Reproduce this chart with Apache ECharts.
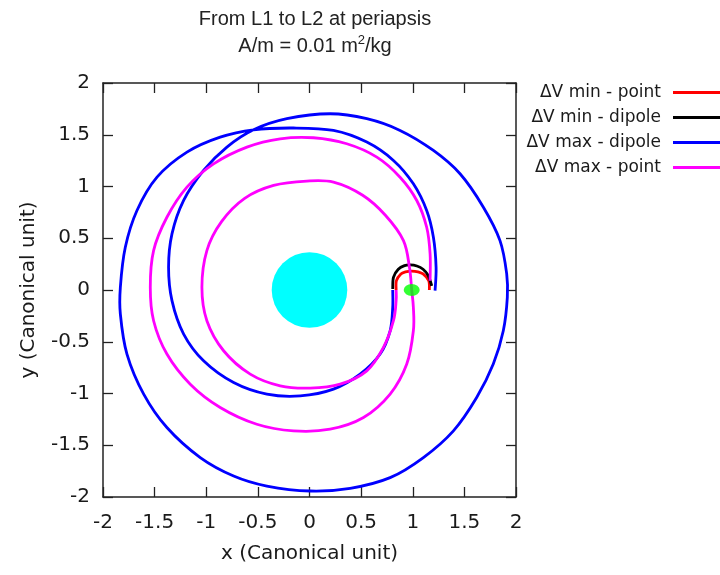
<!DOCTYPE html>
<html>
<head>
<meta charset="utf-8">
<script src="https://cdn.jsdelivr.net/npm/echarts@6/dist/echarts.min.js"></script>
<style>html,body{margin:0;padding:0;background:#fff}#c{width:720px;height:575px}</style>
</head>
<body>
<div id="c"></div>
<script>
// ---- data ----
const xTicks = [-2, -1.5, -1, -0.5, 0, 0.5, 1, 1.5, 2];
const yTicks = [-2, -1.5, -1, -0.5, 0, 0.5, 1, 1.5, 2];
const seriesNames = ['ΔV min - point', 'ΔV min - dipole', 'ΔV max - dipole', 'ΔV max - point'];

const minPoint = [[0.839,0],[0.842,0.09],[0.885,0.155],[0.93,0.175],[0.99,0.182],[1.05,0.175],[1.1,0.155],[1.155,0.09],[1.161,0]];
const minDipole = [[0.806,0.01],[0.813,0.123],[0.86,0.2],[0.92,0.235],[0.974,0.242],[1.04,0.232],[1.1,0.2],[1.15,0.14],[1.184,0.04]];
const maxDipole = [
  [0.806,0],[0.806,-0.168],[0.781,-0.394],[0.684,-0.619],[0.49,-0.813],[0.232,-0.958],[-0.09,-1.023],
  [-0.413,-1.006],[-0.735,-0.894],[-1.026,-0.684],[-1.219,-0.426],[-1.332,-0.103],[-1.365,0.219],
  [-1.332,0.542],[-1.219,0.865],[-1.026,1.155],[-0.8,1.381],[-0.542,1.548],[-0.219,1.655],[0.2,1.703],
  [0.555,1.655],[0.877,1.542],[1.2,1.348],[1.458,1.123],[1.684,0.8],[1.845,0.477],[1.91,0.155],
  [1.916,-0.071],[1.877,-0.394],[1.78,-0.716],[1.619,-1.039],[1.394,-1.361],[1.103,-1.619],[0.781,-1.813],
  [0.394,-1.916],[0.006,-1.942],[-0.413,-1.894],[-0.735,-1.797],[-1.058,-1.619],[-1.381,-1.329],
  [-1.606,-1.006],[-1.768,-0.619],[-1.832,-0.232],[-1.832,0.026],[-1.784,0.413],[-1.671,0.768],
  [-1.477,1.09],[-1.187,1.332],[-0.865,1.477],[-0.542,1.548],[-0.155,1.565],[0.232,1.542],[0.555,1.429],
  [0.813,1.252],[1.006,1.026],[1.135,0.768],[1.2,0.51],[1.226,0.219],[1.216,-0.006]
];
const maxPoint = [
  [1.168,0.09],[1.168,0.348],[1.135,0.606],[1.039,0.865],[0.877,1.09],[0.652,1.284],[0.361,1.413],
  [0.039,1.471],[-0.284,1.461],[-0.606,1.381],[-0.929,1.219],[-1.187,0.994],[-1.381,0.703],[-1.51,0.381],
  [-1.542,0.026],[-1.51,-0.297],[-1.381,-0.619],[-1.155,-0.91],[-0.865,-1.135],[-0.51,-1.297],[-0.155,-1.361],
  [0.2,-1.345],[0.523,-1.232],[0.781,-1.006],[0.942,-0.716],[1.006,-0.394],[1.006,-0.168],[0.99,0],
  [0.968,0.219],[0.91,0.477],[0.735,0.722],[0.515,0.915],[0.232,1.042],[-0.026,1.052],[-0.348,1.01],
  [-0.628,0.885],[-0.852,0.66],[-0.994,0.381],[-1.042,0.026],[-0.994,-0.297],[-0.832,-0.587],
  [-0.574,-0.813],[-0.284,-0.926],[0.006,-0.948],[0.297,-0.91],[0.555,-0.781],[0.716,-0.555],
  [0.813,-0.297],[0.839,-0.103],[0.839,0]
];
const primaryBody = [[0, 0, 0.366]];   // x, y, radius
const secondaryBody = [[0.99, 0]];

// ---- chart ----
const chart = echarts.init(document.getElementById('c'), null, {renderer: 'canvas'});
const axisFont = {fontFamily: 'DejaVu Sans', fontSize: 20, color: '#1a1a1a'};
const tickStyle = {inside: true, length: 10, lineStyle: {color: '#222', width: 1.3}};
const lineStyleAx = {lineStyle: {color: '#222', width: 1.5}, onZero: false};

// Smooth curve drawn through the data points (converted by the axis scales)
function curveSeries(name, data, color) {
  return {
    name, type: 'custom', data, xAxisIndex: 0, yAxisIndex: 0, z: 3, silent: true,
    itemStyle: {color},
    renderItem: function (params, api) {
      if (params.dataIndexInside !== 0) return null;
      const n = params.dataInsideLength;
      const p = [];
      for (let i = 0; i < n; i++) p.push(api.coord([api.value(0, i), api.value(1, i)]));
      let d = 'M' + p[0][0] + ',' + p[0][1];
      for (let i = 0; i < n - 1; i++) {
        const p0 = p[Math.max(i - 1, 0)], p1 = p[i], p2 = p[i + 1], p3 = p[Math.min(i + 2, n - 1)];
        const c1x = p1[0] + (p2[0] - p0[0]) / 6, c1y = p1[1] + (p2[1] - p0[1]) / 6;
        const c2x = p2[0] - (p3[0] - p1[0]) / 6, c2y = p2[1] - (p3[1] - p1[1]) / 6;
        d += 'C' + c1x + ',' + c1y + ' ' + c2x + ',' + c2y + ' ' + p2[0] + ',' + p2[1];
      }
      return {
        type: 'path', shape: {pathData: d},
        style: {fill: 'none', stroke: color, lineWidth: 2.8, lineJoin: 'round', lineCap: 'butt'}
      };
    }
  };
}

const option = {
  backgroundColor: '#fff',
  animation: false,
  title: {
    left: 310, top: 1, textAlign: 'center',
    text: '{a|From L1 to L2 at periapsis}\n{a|A/m = 0.01 m}{s|2}{a|/kg}',
    textStyle: {
      rich: {
        a: {fontFamily: 'Liberation Sans', fontSize: 20, fontWeight: 'normal', color: '#222', lineHeight: 27},
        s: {fontFamily: 'Liberation Sans', fontSize: 13, fontWeight: 'normal', color: '#222', lineHeight: 27, padding: [0,0,12,0]}
      }
    }
  },
  legend: {
    data: seriesNames,
    orient: 'vertical', align: 'right', right: -12, top: 79,
    icon: 'path://M0,0H100V6H0Z',
    itemWidth: 54, itemHeight: 14, itemGap: 8,
    textStyle: {fontFamily: 'DejaVu Sans', fontSize: 17, color: '#1a1a1a', padding: [0, 7, 0, 0]}
  },
  grid: {left: 103, right: 204, top: 83, bottom: 78},
  xAxis: [{
    type: 'value', min: xTicks[0], max: xTicks[xTicks.length - 1], interval: xTicks[1] - xTicks[0],
    name: 'x (Canonical unit)', nameLocation: 'middle', nameGap: 47,
    nameTextStyle: axisFont,
    axisLine: lineStyleAx, axisTick: tickStyle, splitLine: {show: false},
    axisLabel: Object.assign({margin: 16}, axisFont)
  }, {
    type: 'value', position: 'top', min: xTicks[0], max: xTicks[xTicks.length - 1], interval: xTicks[1] - xTicks[0],
    axisLine: lineStyleAx, axisTick: tickStyle, splitLine: {show: false}, axisLabel: {show: false}
  }],
  yAxis: [{
    type: 'value', min: yTicks[0], max: yTicks[yTicks.length - 1], interval: yTicks[1] - yTicks[0],
    name: 'y (Canonical unit)', nameLocation: 'middle', nameGap: 64,
    nameTextStyle: axisFont,
    axisLine: lineStyleAx, axisTick: tickStyle, splitLine: {show: false},
    axisLabel: Object.assign({margin: 13}, axisFont)
  }, {
    type: 'value', position: 'right', min: yTicks[0], max: yTicks[yTicks.length - 1], interval: yTicks[1] - yTicks[0],
    axisLine: lineStyleAx, axisTick: tickStyle, splitLine: {show: false}, axisLabel: {show: false}
  }],
  series: [
    {
      type: 'custom', data: primaryBody, xAxisIndex: 0, yAxisIndex: 0, z: 1, silent: true,
      renderItem: function (params, api) {
        const c = api.coord([api.value(0), api.value(1)]);
        const r = api.size([api.value(2), 0])[0];
        return {type: 'circle', shape: {cx: c[0], cy: c[1], r: r}, style: {fill: '#00ffff'}};
      }
    },
    curveSeries(seriesNames[0], minPoint, '#ff0000'),
    curveSeries(seriesNames[1], minDipole, '#000000'),
    curveSeries(seriesNames[2], maxDipole, '#0000ff'),
    curveSeries(seriesNames[3], maxPoint, '#ff00ff'),
    {
      type: 'scatter', data: secondaryBody, symbol: 'circle', symbolSize: [16, 12],
      itemStyle: {color: '#00ff00'}, xAxisIndex: 0, yAxisIndex: 0, z: 5, silent: true
    }
  ]
};
chart.setOption(option);
</script>
</body>
</html>
